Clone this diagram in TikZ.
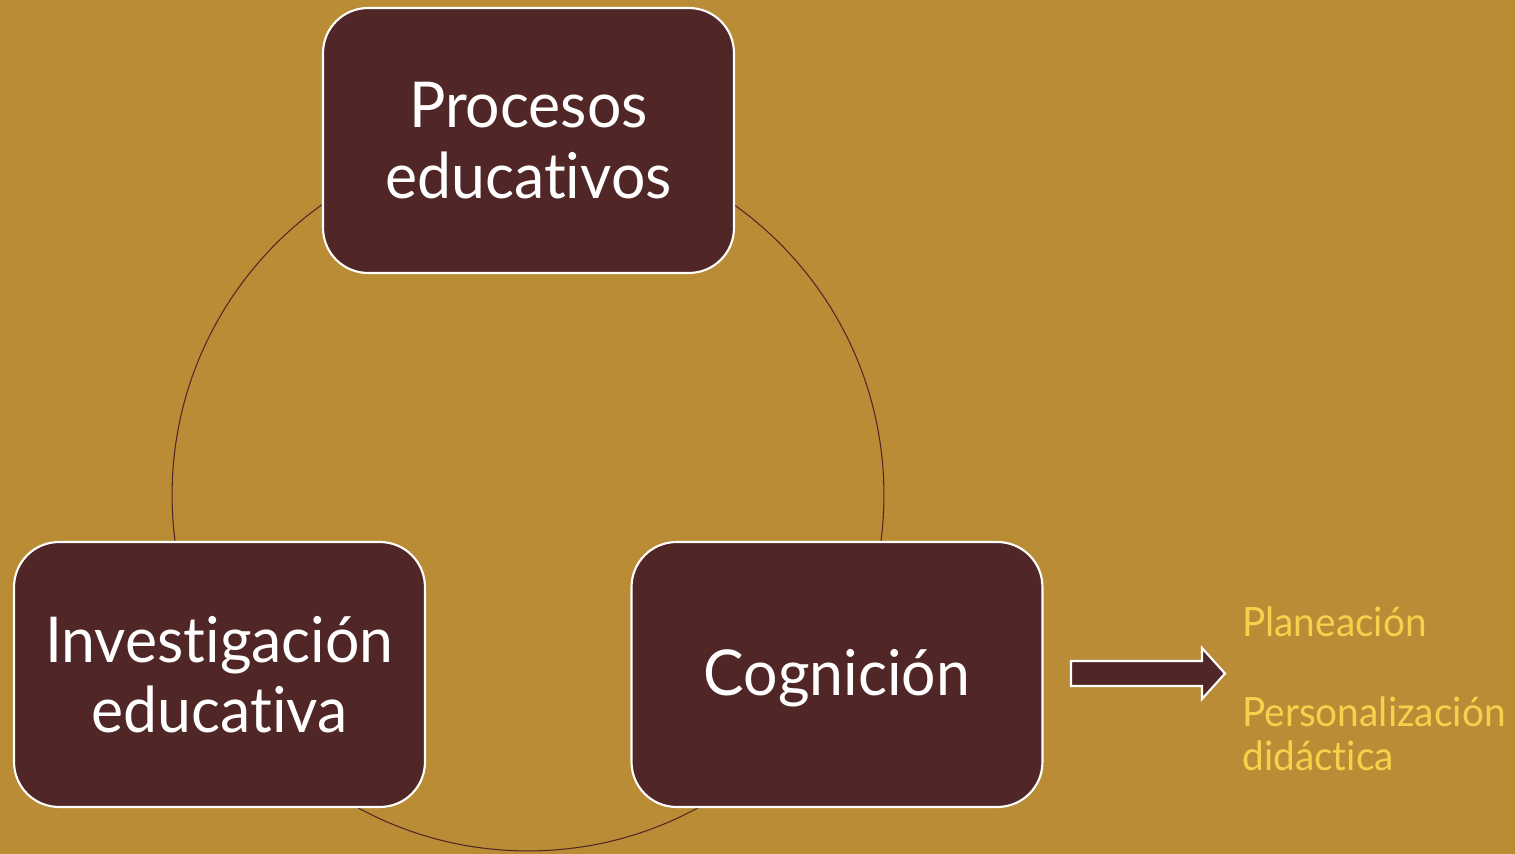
\documentclass[tikz,border=0pt]{standalone}
\usepackage{fontspec}
\setmainfont{Lato}[Ligatures=NoCommon, FakeStretch=0.96]
\usepackage{xcolor}
\definecolor{fondo}{HTML}{B98C35}
\definecolor{cafe}{HTML}{502726}
\definecolor{amarillo}{HTML}{F9D04B}

\begin{document}
\begin{tikzpicture}[x=0.02cm, y=-0.02cm]
  \tikzstyle{myline}=[line cap=round, line join=round];
  %
  % background
  \fill[fondo] (0, 0) rectangle (1515, 854);
  \useasboundingbox (0, 0) rectangle (1515, 854);
  %
  % ring behind the boxes
  \coordinate (centro) at (528, 495);
  \draw[myline, cafe, line width=0.6pt] (centro) circle[radius=7.12cm];
  %
  % boxes
  \tikzstyle{caja}=[myline, draw=white, line width=1.2pt, fill=cafe,
    rounded corners=0.9cm, minimum width=8.22cm, minimum height=5.3cm,
    text=white, align=center, font=\fontsize{36}{40}\selectfont];
  \node[caja] (procesos) at (528.5, 140.5) {Procesos\\educativos};
  \node[caja] (investigacion) at (219.5, 674.5) {Investigación\\educativa};
  \node[caja, text depth=0.1cm] (cognicion) at (837, 674.5) {Cognición};
  %
  % block arrow
  \tikzstyle{flecha}=[myline, draw=white, line width=1.2pt, fill=cafe, line join=miter];
  \coordinate (flechaA) at (1071, 661);
  \coordinate (flechaB) at (1202, 661);
  \coordinate (flechaC) at (1202, 648);
  \coordinate (flechaD) at (1225, 673.5);
  \coordinate (flechaE) at (1202, 699);
  \coordinate (flechaF) at (1202, 686);
  \coordinate (flechaG) at (1071, 686);
  \draw[flecha] (flechaA) -- (flechaB) -- (flechaC) -- (flechaD)
    -- (flechaE) -- (flechaF) -- (flechaG) -- cycle;
  %
  % results
  \tikzstyle{nota}=[text=amarillo, inner sep=0pt, align=left,
    font=\fontsize{23}{24.5}\selectfont];
  \node[nota, anchor=base west] (planeacion) at (1242, 637) {Planeación};
  \node[nota, anchor=base west] (personalizacion) at (1242, 770)
    {Personalización\\didáctica};
\end{tikzpicture}
\end{document}
